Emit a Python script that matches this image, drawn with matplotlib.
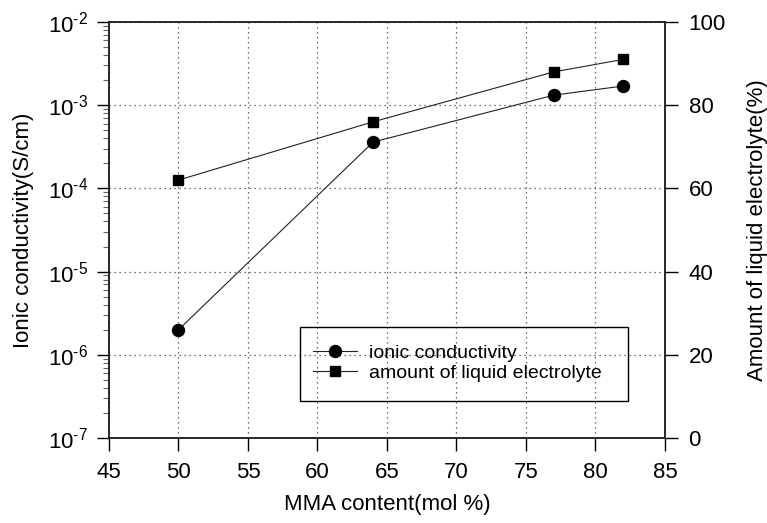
import numpy as np
import matplotlib
matplotlib.use("Agg")
import matplotlib.pyplot as plt
from matplotlib.patches import Rectangle
from matplotlib.ticker import FixedLocator, FixedFormatter, LogLocator, NullFormatter

plt.rcParams['font.family'] = ['Liberation Sans', 'DejaVu Sans']
plt.rcParams['mathtext.fontset'] = 'custom'
plt.rcParams['mathtext.rm'] = 'Liberation Sans'

#----data----
mma = [50, 64, 77, 82]  #MMA content (mol %)
conductivity = [2.0e-6, 3.6e-4, 1.32e-3, 1.7e-3]  #S/cm
liquid_amount = [62, 76, 88, 91]  #%

x_ticks = [45, 50, 55, 60, 65, 70, 75, 80, 85]
cond_ticks = [1e-7, 1e-6, 1e-5, 1e-4, 1e-3, 1e-2]
cond_labels = [r'$\mathregular{10^{\text{-}%d}}$' % e for e in [7, 6, 5, 4, 3, 2]]
liq_ticks = [0, 20, 40, 60, 80, 100]
#----end data----

fig = plt.figure(figsize=(7.67, 5.23), dpi=100)
ax = fig.add_axes([0.1421, 0.1625, 0.7249, 0.7955])
ax2 = ax.twinx()

line_c, = ax.plot(mma, conductivity, color="#222222", lw=0.8, marker="o", ms=8.6,
                  mfc="black", mec="black", label="ionic conductivity", zorder=3)
line_s, = ax2.plot(mma, liquid_amount, color="#222222", lw=0.8, marker="s", ms=7.7,
                   mfc="black", mec="black", label="amount of liquid electrolyte", zorder=3)

ax.set_xlim(45, 85)
ax.set_yscale("log")
ax.set_ylim(1e-7, 1e-2)
ax2.set_ylim(0, 100)

ax.xaxis.set_major_locator(FixedLocator(x_ticks))
ax.yaxis.set_major_locator(FixedLocator(cond_ticks))
ax.yaxis.set_major_formatter(FixedFormatter(cond_labels))
ax.yaxis.set_minor_locator(LogLocator(base=10, subs=np.arange(2, 10)))
ax.yaxis.set_minor_formatter(NullFormatter())
ax2.yaxis.set_major_locator(FixedLocator(liq_ticks))

ax.grid(True, which="major", ls=(0, (1, 3)), color="#444444", lw=0.9)

for a in (ax, ax2):
    for sp in a.spines.values():
        sp.set_linewidth(1.1)
        sp.set_color("#222222")

ax.tick_params(axis="x", direction="out", length=9, width=1, labelsize=16, pad=8, top=False)
ax.tick_params(axis="y", which="major", direction="out", length=9, width=1, labelsize=16, pad=6)
ax.tick_params(axis="y", which="minor", direction="out", length=4.3, width=0.8, color="#666666")
ax2.tick_params(axis="y", direction="out", length=9, width=1, labelsize=16, pad=8)

ax.set_xlabel("MMA content(mol %)", fontsize=16)
ax.set_ylabel("Ionic conductivity(S/cm)", fontsize=16)
ax2.set_ylabel("Amount of liquid electrolyte(%)", fontsize=16)
ax.xaxis.set_label_coords(0.5, -0.1346)
ax.yaxis.set_label_coords(-0.135, 0.5)
ax2.yaxis.set_label_coords(1.1475, 0.5)

#legend box (frame drawn separately, larger than the entries)
ax2.add_patch(Rectangle((0.3435, 0.0889), 0.59, 0.178, transform=ax2.transAxes,
                        fill=False, ec="black", lw=1.0, zorder=4))
leg = ax2.legend([line_c, line_s], [line_c.get_label(), line_s.get_label()],
                 loc="center left", bbox_to_anchor=(0.3669, 0.180), frameon=False,
                 fontsize=14, numpoints=1, handlelength=2.27, handletextpad=0.62,
                 labelspacing=0.1, borderpad=0, borderaxespad=0)

fig.savefig("out.png", dpi=100)
